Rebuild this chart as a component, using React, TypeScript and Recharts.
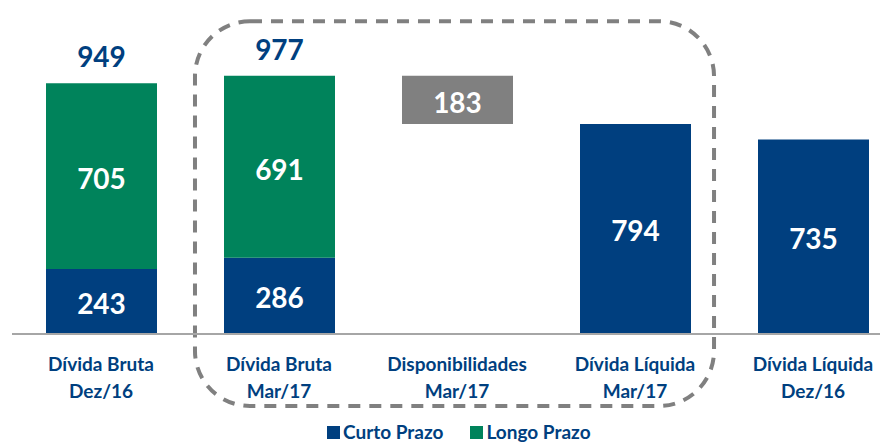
import { BarChart, Bar, XAxis, YAxis, LabelList, ReferenceArea, Legend } from 'recharts';

const categories = [
  'Dívida Bruta\nDez/16',
  'Dívida Bruta\nMar/17',
  'Disponibilidades\nMar/17',
  'Dívida Líquida\nMar/17',
  'Dívida Líquida\nDez/16',
];
const curtoPrazo = [243, 286, 0, 0, 0];
const longoPrazo = [705, 691, 0, 0, 0];
const dividaLiquida = [0, 0, 0, 794, 735];
const dispBase = [0, 0, 794, 0, 0];
const disponibilidades = [0, 0, 183, 0, 0];
const totals = [949, 977, 0, 0, 0];
const legendNames = ['Curto Prazo', 'Longo Prazo'];

const NAVY = '#003F7F';
const GREEN = '#00835B';
const GRAY = '#808080';
const AXIS = '#a6a6a6';
const FONT = 'Lato, "Open Sans", sans-serif';
const legendColors = [NAVY, GREEN];

const data = categories.map((name, i) => ({
  name,
  curto: curtoPrazo[i],
  longo: longoPrazo[i],
  liquida: dividaLiquida[i],
  base: dispBase[i],
  disp: disponibilidades[i],
}));

// centre of each category band on a 0..n numeric scale
const slot = (d: any) => categories.indexOf(d.name) + 0.5;

const InsideLabel = (props: any) => {
  const { x, y, width, height, value } = props;
  if (!value) return null;
  return (
    <text
      x={x + width / 2}
      y={y + height / 2 + 2}
      textAnchor="middle"
      dominantBaseline="central"
      fill="#fff"
      fontFamily={FONT}
      fontWeight={700}
      fontSize={28}
    >
      {value}
    </text>
  );
};

const TotalLabel = (props: any) => {
  const { x, y, width, index } = props;
  const t = totals[index];
  if (!t) return null;
  return (
    <text
      x={x + width / 2}
      y={y - 27}
      textAnchor="middle"
      dominantBaseline="central"
      fill={NAVY}
      fontFamily={FONT}
      fontWeight={700}
      fontSize={28}
    >
      {t}
    </text>
  );
};

const CategoryTick = (props: any) => {
  const { x, y, payload } = props;
  const lines = String(payload.value).split('\n');
  return (
    <g>
      {lines.map((l, i) => (
        <text
          key={i}
          x={x}
          y={y + 30 + i * 27}
          textAnchor="middle"
          dominantBaseline="central"
          fill={NAVY}
          fontFamily={FONT}
          fontWeight={700}
          fontSize={19}
        >
          {l}
        </text>
      ))}
    </g>
  );
};

const DashedBox = (props: any) => {
  const { x, y, width, height } = props;
  return (
    <rect
      x={x}
      y={y}
      width={width}
      height={height}
      rx={55}
      ry={55}
      fill="none"
      stroke={GRAY}
      strokeWidth={4}
      strokeDasharray="12 9"
    />
  );
};

const LegendContent = () => (
  <div style={{ display: 'flex', alignItems: 'center', fontFamily: FONT, fontWeight: 700, fontSize: 19, lineHeight: '22px', color: NAVY }}>
    {legendNames.map((n, i) => (
      <div key={n} style={{ display: 'flex', alignItems: 'center', marginRight: 27 }}>
        <span style={{ width: 13, height: 13, background: legendColors[i], marginRight: 3, display: 'inline-block' }} />
        <span>{n}</span>
      </div>
    ))}
  </div>
);

export default function App() {
  return (
    <div style={{ width: 880, height: 437, overflow: 'hidden', position: 'relative' }}>
      <BarChart
        width={910}
        height={437}
        data={data}
        margin={{ top: 9, right: 16, left: 4, bottom: 31 }}
        barSize={111}
      >
        <XAxis
          xAxisId="b"
          type="number"
          dataKey={slot}
          domain={[0, 5]}
          ticks={[0, 1, 2, 3, 4, 5]}
          tick={false}
          tickSize={8}
          height={80}
          axisLine={{ stroke: AXIS, strokeWidth: 2 }}
          tickLine={{ stroke: AXIS, strokeWidth: 2 }}
        />
        <XAxis
          dataKey="name"
          axisLine={false}
          tickLine={false}
          tickSize={0}
          tickMargin={0}
          height={1}
          interval={0}
          tick={<CategoryTick />}
        />
        <YAxis hide domain={[0, 1200]} />
        <Bar dataKey="curto" stackId="a" fill={NAVY} isAnimationActive={false}>
          <LabelList dataKey="curto" content={<InsideLabel />} />
        </Bar>
        <Bar dataKey="longo" stackId="a" fill={GREEN} isAnimationActive={false}>
          <LabelList dataKey="longo" content={<InsideLabel />} />
          <LabelList dataKey="longo" content={<TotalLabel />} />
        </Bar>
        <Bar dataKey="liquida" stackId="a" fill={NAVY} isAnimationActive={false}>
          <LabelList dataKey="liquida" content={<InsideLabel />} />
        </Bar>
        <Bar dataKey="base" stackId="a" fill="transparent" isAnimationActive={false} />
        <Bar dataKey="disp" stackId="a" fill={GRAY} isAnimationActive={false}>
          <LabelList dataKey="disp" content={<InsideLabel />} />
        </Bar>
        <ReferenceArea
          xAxisId="b"
          x1={1.028}
          x2={3.944}
          y1={-277}
          y2={1184}
          ifOverflow="visible"
          shape={<DashedBox />}
        />
        <Legend
          layout="vertical"
          align="center"
          verticalAlign="middle"
          content={<LegendContent />}
          wrapperStyle={{ top: 413, left: 319, width: 400, height: 22 }}
        />
      </BarChart>
    </div>
  );
}
